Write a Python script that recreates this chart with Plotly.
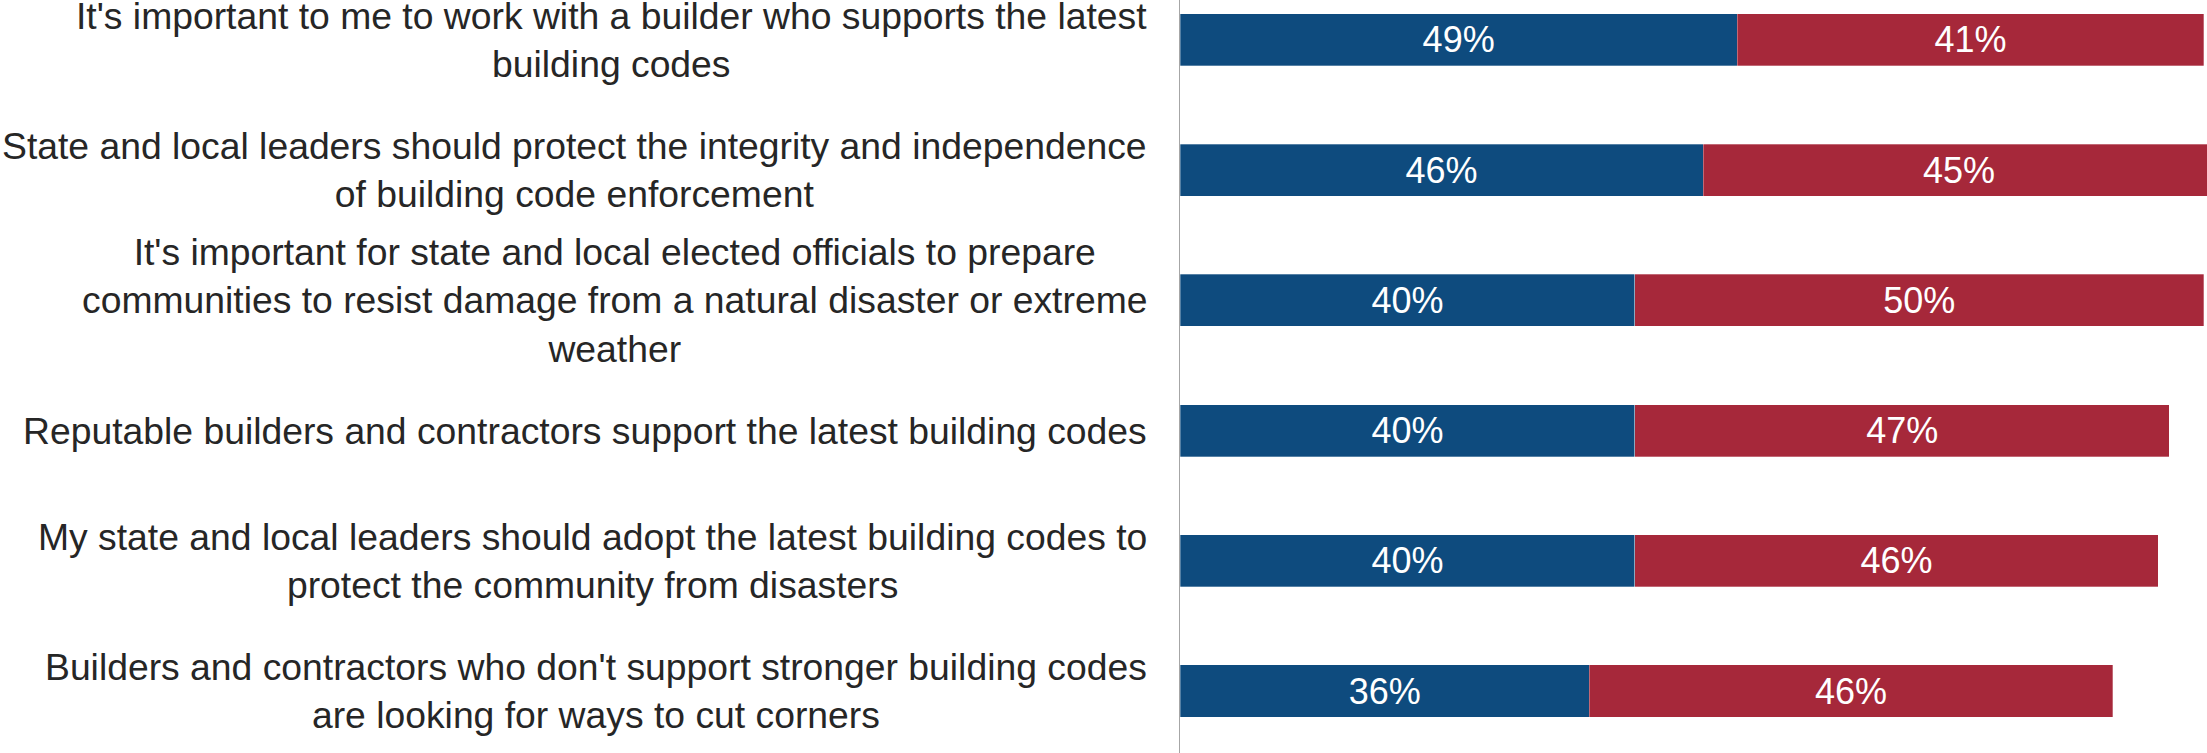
import plotly.graph_objects as go

# statements, top to bottom
STATEMENTS = [
    "It's important to me to work with a builder who supports the latest<br>building codes",
    "State and local leaders should protect the integrity and independence<br>of building code enforcement",
    "It's important for state and local elected officials to prepare<br>communities to resist damage from a natural disaster or extreme<br>weather",
    "Reputable builders and contractors support the latest building codes",
    "My state and local leaders should adopt the latest building codes to<br>protect the community from disasters",
    "Builders and contractors who don't support stronger building codes<br>are looking for ways to cut corners",
]
AGREE = [49, 46, 40, 40, 40, 36]
DISAGREE = [41, 45, 50, 47, 46, 46]

BLUE = "#0E4B7E"
RED = "#A6283A"
FONT = "Liberation Sans, Arial, sans-serif"

fig = go.Figure()
for vals, color in [(AGREE, BLUE), (DISAGREE, RED)]:
    fig.add_trace(
        go.Bar(
            y=STATEMENTS,
            x=vals,
            orientation="h",
            marker=dict(color=color, line=dict(color="rgba(255,255,255,0.5)", width=0.6)),
            text=[f"{v}%" for v in vals],
            textposition="inside",
            insidetextanchor="middle",
            textfont=dict(color="white", size=36, family=FONT),
            showlegend=False,
            hoverinfo="skip",
        )
    )

for s in STATEMENTS:
    fig.add_annotation(
        x=0,
        xref="paper",
        y=s,
        yref="y",
        text=s,
        showarrow=False,
        xanchor="right",
        yanchor="middle",
        xshift=-31,
        align="center",
        font=dict(size=37.3, color="#262626", family=FONT),
    )

fig.update_layout(
    barmode="stack",
    bargap=0.6,
    width=2207,
    height=753,
    margin=dict(l=1180, r=0, t=0, b=0),
    plot_bgcolor="white",
    paper_bgcolor="white",
    font=dict(family=FONT),
    uniformtext=dict(minsize=36, mode="show"),
)
fig.update_xaxes(range=[0, 90.3], visible=False, showgrid=False, zeroline=False)
fig.update_yaxes(
    type="category",
    range=[5.476, -0.306],
    showticklabels=False,
    showgrid=False,
    zeroline=False,
    showline=True,
    linecolor="#A6A6A6",
    linewidth=1,
    ticks="",
)

# drop the browser's default page margin so the chart sits at the top-left corner
fig.write_html(
    "out.html",
    config={"displayModeBar": False},
    post_script="document.body.style.margin='0';",
)
